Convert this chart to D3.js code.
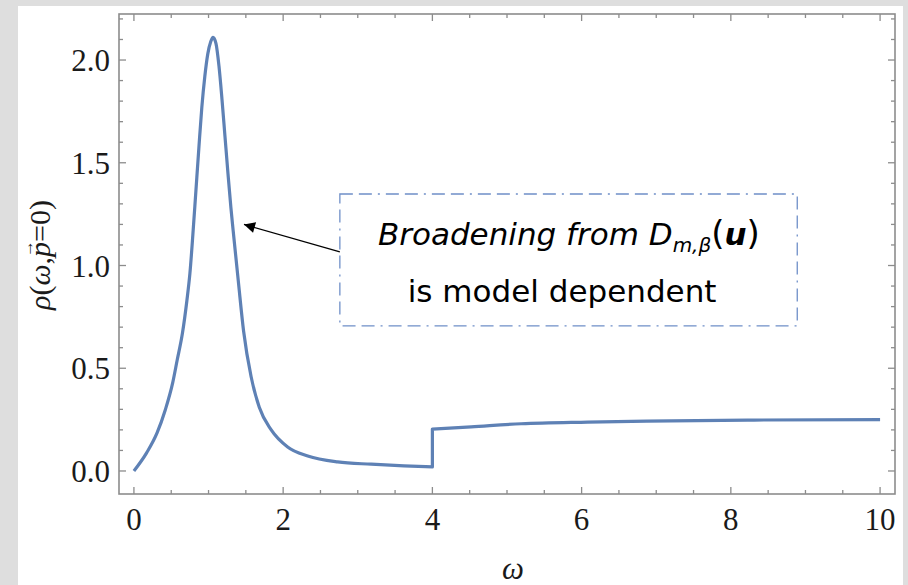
<!DOCTYPE html>
<html>
<head>
<meta charset="utf-8">
<script src="https://cdn.jsdelivr.net/npm/d3@7"></script>
<style>
  html, body { margin: 0; padding: 0; background: #dedede; }
  svg { display: block; }
</style>
</head>
<body>
<svg class="chart"></svg>
<script>
// spectral function, below the threshold at omega = 4
var omegaLow = [0, 0.17, 0.31, 0.42, 0.52, 0.58, 0.65, 0.71, 0.75, 0.79, 0.83, 0.87, 0.91, 0.95, 0.99, 1.03, 1.06,
    1.10, 1.14, 1.18, 1.22, 1.26, 1.30, 1.33, 1.40, 1.47, 1.57, 1.68, 1.84, 2.06, 2.33, 2.73, 3.18, 3.62, 4.0]
var rhoLow = [0, 0.088, 0.185, 0.297, 0.43, 0.54, 0.67, 0.83, 0.96, 1.15, 1.36, 1.57, 1.77, 1.92, 2.03, 2.09, 2.11,
    2.08, 1.97, 1.81, 1.63, 1.45, 1.28, 1.17, 0.92, 0.68, 0.46, 0.31, 0.20, 0.117, 0.073, 0.044, 0.033, 0.025, 0.02]
// above the threshold
var omegaHigh = [4.0, 4.52, 5.19, 6.08, 7.2, 8.31, 10.0]
var rhoHigh = [0.204, 0.215, 0.23, 0.238, 0.244, 0.248, 0.25]

var xTicks = [0, 2, 4, 6, 8, 10]
var yTicks = [0.0, 0.5, 1.0, 1.5, 2.0]

// annotation: box corners, arrow and text anchors in data units
var noteBox = [[2.76, 1.348], [8.89, 0.706]]
var noteArrow = [[2.76, 1.066], [1.475, 1.20]]
var noteLines = [[3.27, 1.10], [3.67, 0.822]]

var width = 908,
    height = 585,
    margin = {
        top: 14,
        right: 13,
        bottom: 91,
        left: 119
    }

var svg = d3.select(".chart")
    .attr("width", width)
    .attr("height", height)

// white panel over the grey page
svg.append("rect")
    .attr("x", 18).attr("y", 6)
    .attr("width", 885).attr("height", height - 6)
    .attr("fill", "#fff")

var xScale = d3.scaleLinear()
    .domain([-0.2, 10.2])
    .range([margin.left, width - margin.right])
var yScale = d3.scaleLinear()
    .domain([-0.112, 2.224])
    .range([height - margin.bottom, margin.top])

var x0 = xScale.range()[0], x1 = xScale.range()[1]
var y0 = yScale.range()[0], y1 = yScale.range()[1]

var xMinor = d3.range(0, 10.01, 0.5).filter(d => d % 2 !== 0)
var yMinor = d3.range(0, 2.25, 0.1).map(d => +d.toFixed(1)).filter(d => Math.round(d * 10) % 5 !== 0)

var frameColor = "#8c8c8c"

// ticks on all four sides, pointing inwards
var ticks = svg.append("g").attr("stroke", frameColor).attr("stroke-width", 1.3)
function xTick(v, len) {
    ticks.append("line").attr("x1", xScale(v)).attr("x2", xScale(v)).attr("y1", y0).attr("y2", y0 - len)
    ticks.append("line").attr("x1", xScale(v)).attr("x2", xScale(v)).attr("y1", y1).attr("y2", y1 + len)
}
function yTick(v, len) {
    ticks.append("line").attr("y1", yScale(v)).attr("y2", yScale(v)).attr("x1", x0).attr("x2", x0 + len)
    ticks.append("line").attr("y1", yScale(v)).attr("y2", yScale(v)).attr("x1", x1).attr("x2", x1 - len)
}
xTicks.forEach(v => xTick(v, 7))
xMinor.forEach(v => xTick(v, 4))
yTicks.forEach(v => yTick(v, 7))
yMinor.forEach(v => yTick(v, 4))

svg.append("rect")
    .attr("x", x0).attr("y", y1)
    .attr("width", x1 - x0).attr("height", y0 - y1)
    .attr("fill", "none")
    .attr("stroke", frameColor)
    .attr("stroke-width", 1.6)

// tick labels
svg.append("g")
    .attr("font-family", "Liberation Serif, serif")
    .attr("font-size", 31)
    .attr("fill", "#1a1a1a")
    .attr("text-anchor", "middle")
    .selectAll("text")
    .data(xTicks)
    .join("text")
    .attr("x", d => xScale(d))
    .attr("y", y0 + 36)
    .text(d => d)

svg.append("g")
    .attr("font-family", "Liberation Serif, serif")
    .attr("font-size", 31)
    .attr("fill", "#1a1a1a")
    .attr("text-anchor", "end")
    .selectAll("text")
    .data(yTicks)
    .join("text")
    .attr("x", x0 - 9)
    .attr("y", d => yScale(d) + 11)
    .text(d => d3.format(".1f")(d))

// axis titles
svg.append("text")
    .attr("x", 513)
    .attr("y", 579)
    .attr("text-anchor", "middle")
    .attr("font-family", "Liberation Serif, serif")
    .attr("font-style", "italic")
    .attr("font-size", 31)
    .attr("fill", "#1a1a1a")
    .text("ω")

var yTitle = svg.append("text")
    .attr("transform", "translate(50,255) rotate(-90)")
    .attr("text-anchor", "middle")
    .attr("font-family", "Liberation Serif, serif")
    .attr("font-size", 30)
    .attr("fill", "#1a1a1a")
yTitle.append("tspan").attr("font-style", "italic").text("ρ")
yTitle.append("tspan").text("(")
yTitle.append("tspan").attr("font-style", "italic").text("ω")
yTitle.append("tspan").text(",")
yTitle.append("tspan").attr("font-style", "italic").text("p")
// vector arrow sitting over the p
yTitle.append("tspan").attr("font-size", 17).attr("dx", -15).attr("dy", -17).text("→")
yTitle.append("tspan").attr("dx", -2).attr("dy", 17).text("=0)")

// the curve, with its vertical jump at omega = 4
var line = d3.line()
    .x(d => xScale(d[0]))
    .y(d => yScale(d[1]))
    .curve(d3.curveMonotoneX)

var low = d3.zip(omegaLow, rhoLow)
var high = d3.zip(omegaHigh, rhoHigh)

svg.append("path")
    .attr("fill", "none")
    .attr("stroke", "#5e81b5")
    .attr("stroke-width", 3.2)
    .attr("stroke-linejoin", "round")
    .attr("d", line(low) + "L" + line(high).slice(1))

// annotation box
svg.append("rect")
    .attr("x", xScale(noteBox[0][0]))
    .attr("y", yScale(noteBox[0][1]))
    .attr("width", xScale(noteBox[1][0]) - xScale(noteBox[0][0]))
    .attr("height", yScale(noteBox[1][1]) - yScale(noteBox[0][1]))
    .attr("fill", "#fff")
    .attr("stroke", "#6f8fc8")
    .attr("stroke-width", 1.3)
    .attr("stroke-dasharray", "13,6,13,6,2,6")

svg.append("defs").append("marker")
    .attr("id", "head")
    .attr("viewBox", "0 0 10 10")
    .attr("refX", 10).attr("refY", 5)
    .attr("markerWidth", 16).attr("markerHeight", 11)
    .attr("markerUnits", "userSpaceOnUse")
    .attr("orient", "auto")
    .append("path")
    .attr("d", "M0,0L10,5L0,10Z")
    .attr("fill", "#000")

svg.append("line")
    .attr("x1", xScale(noteArrow[0][0])).attr("y1", yScale(noteArrow[0][1]))
    .attr("x2", xScale(noteArrow[1][0])).attr("y2", yScale(noteArrow[1][1]))
    .attr("stroke", "#000")
    .attr("stroke-width", 1.2)
    .attr("marker-end", "url(#head)")

var t1 = svg.append("text")
    .attr("x", xScale(noteLines[0][0]))
    .attr("y", yScale(noteLines[0][1]))
    .attr("font-family", "DejaVu Sans, sans-serif")
    .attr("font-size", 31)
    .attr("font-style", "italic")
    .attr("fill", "#000")
t1.append("tspan").text("Broadening from D")
t1.append("tspan").attr("font-size", 20).attr("dy", 7).text("m,β")
t1.append("tspan").attr("dy", -7).attr("font-size", 34).attr("font-style", "normal").text("(")
t1.append("tspan").attr("font-weight", "bold").text("u")
t1.append("tspan").attr("font-size", 34).attr("font-style", "normal").text(")")

svg.append("text")
    .attr("x", xScale(noteLines[1][0]))
    .attr("y", yScale(noteLines[1][1]))
    .attr("font-family", "DejaVu Sans, sans-serif")
    .attr("font-size", 31)
    .attr("fill", "#000")
    .text("is model dependent")
</script>
</body>
</html>
